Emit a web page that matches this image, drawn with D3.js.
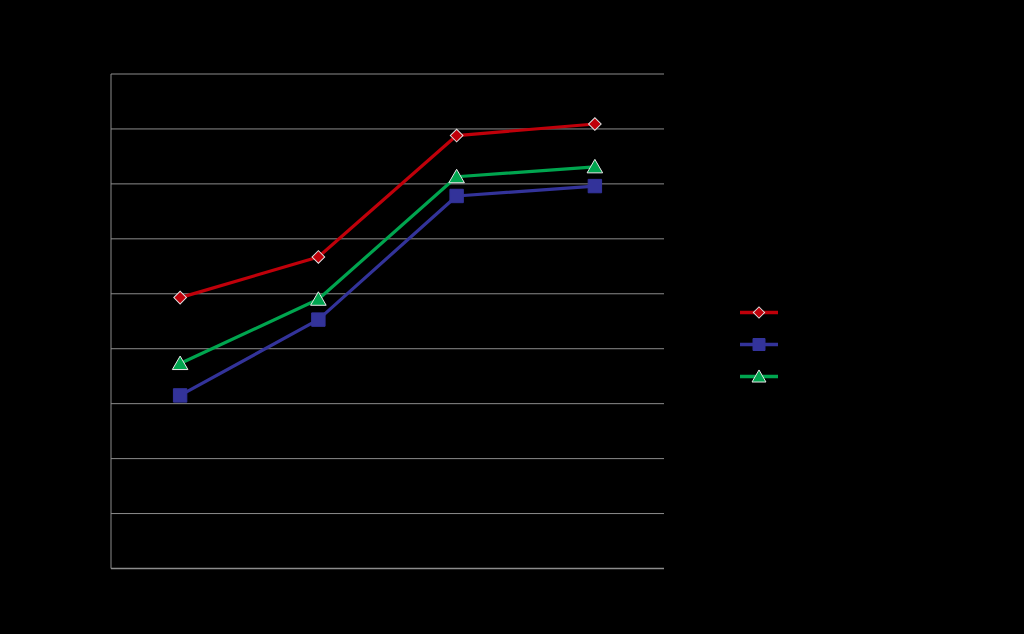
<!DOCTYPE html>
<html><head><meta charset="utf-8">
<script src="https://cdn.jsdelivr.net/npm/d3@7"></script>
<style>html,body{margin:0;padding:0;background:#000;}svg{display:block;}</style>
</head><body>
<svg id="c" width="1024" height="634"></svg>
<script>
const categories = ["1", "2", "3", "4"];
const seriesNames = ["Series 1", "Series 2", "Series 3"];
const series1 = [49.3, 56.7, 78.8, 80.9];
const series2 = [31.5, 45.3, 67.8, 69.6];
const series3 = [37.3, 49.0, 71.3, 73.1];
const yTicks = [0, 10, 20, 30, 40, 50, 60, 70, 80, 90];

const svg = d3.select("#c");
const m = {left: 111, right: 664, top: 74, bottom: 568.5};
const x = d3.scaleBand().domain(categories).range([m.left, m.right]);
const y = d3.scaleLinear().domain([0, 90]).range([m.bottom, m.top]);
const cx = d => x(d) + x.bandwidth() / 2;

svg.append("g").selectAll("line").data(yTicks.slice(1)).join("line")
  .attr("x1", m.left).attr("x2", m.right)
  .attr("y1", d => y(d)).attr("y2", d => y(d))
  .attr("stroke", "#8c8c8c").attr("stroke-width", 1);
svg.append("line").attr("x1", m.left).attr("x2", m.left).attr("y1", m.top).attr("y2", m.bottom)
  .attr("stroke", "#8c8c8c").attr("stroke-width", 1);
svg.append("line").attr("x1", m.left).attr("x2", m.right).attr("y1", m.bottom).attr("y2", m.bottom)
  .attr("stroke", "#8c8c8c").attr("stroke-width", 1.5);

const defs = [
  {name: seriesNames[0], data: series1, color: "#c0000a", sym: d3.symbolSquare, rot: 45, size: 80, stroke: "#e0e0e0", dy: 0},
  {name: seriesNames[1], data: series2, color: "#33339a", sym: d3.symbolSquare, rot: 0, size: 180, stroke: "#33339a", dy: 0},
  {name: seriesNames[2], data: series3, color: "#00a54f", sym: d3.symbolTriangle, rot: 0, size: 105, stroke: "#e8e8e8", dy: 1.5}
];

const line = d3.line().x((d, i) => cx(categories[i])).y(d => y(d));

defs.forEach(s => {
  svg.append("path").datum(s.data).attr("d", line)
    .attr("fill", "none").attr("stroke", s.color).attr("stroke-width", 3.2)
    .attr("stroke-linejoin", "round");
});
defs.forEach(s => {
  const sym = d3.symbol().type(s.sym).size(s.size);
  svg.append("g").selectAll("path").data(s.data).join("path")
    .attr("transform", (d, i) => `translate(${cx(categories[i])},${y(d) + s.dy}) rotate(${s.rot})`)
    .attr("d", sym)
    .attr("fill", s.color)
    .attr("stroke", s.stroke)
    .attr("stroke-width", 1);
});

const lg = svg.append("g");
defs.forEach((s, i) => {
  const ly = 312.5 + i * 32;
  lg.append("line").attr("x1", 740).attr("x2", 778).attr("y1", ly).attr("y2", ly)
    .attr("stroke", s.color).attr("stroke-width", 3.6);
  lg.append("path").attr("transform", `translate(759,${ly + s.dy}) rotate(${s.rot})`)
    .attr("d", d3.symbol().type(s.sym).size(s.size * 0.8)())
    .attr("fill", s.color)
    .attr("stroke", s.stroke)
    .attr("stroke-width", 1);
});
</script>
</body></html>
